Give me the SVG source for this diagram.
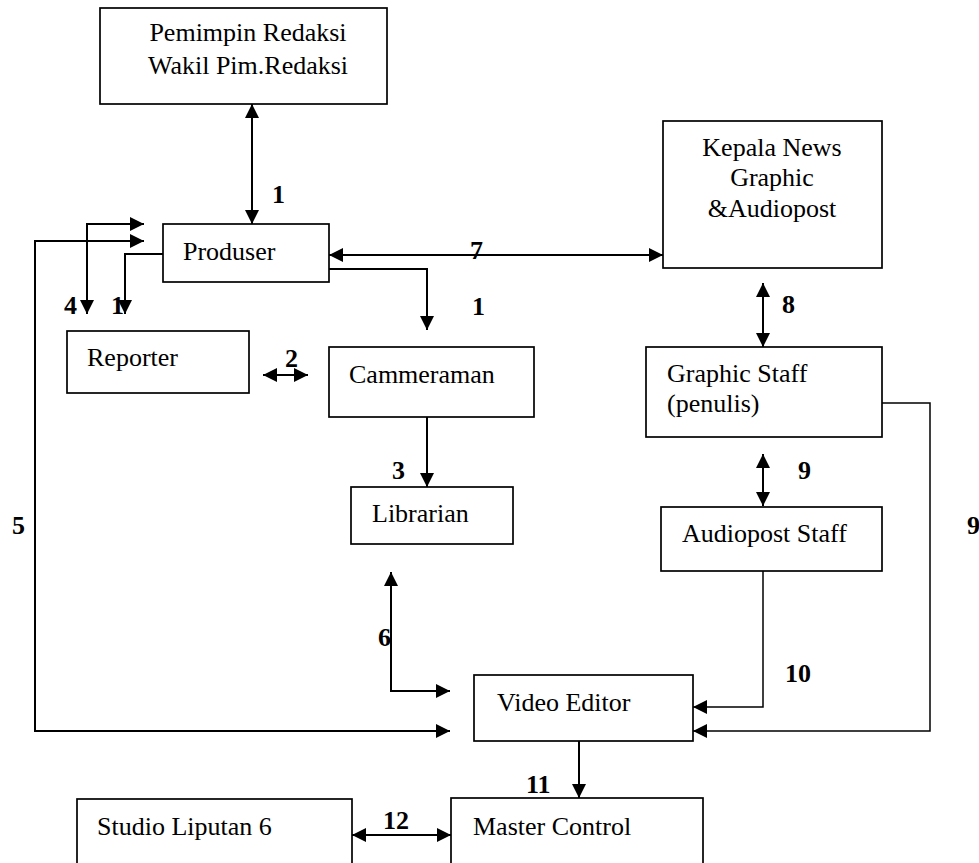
<svg xmlns="http://www.w3.org/2000/svg" width="979" height="863" viewBox="0 0 979 863">
<style>
.box{fill:#fff;stroke:#000;stroke-width:1.7}
.t{font-family:"Liberation Serif","Times New Roman",serif;font-size:26px;fill:#000}
.n{font-family:"Liberation Serif","Times New Roman",serif;font-size:26px;font-weight:bold;fill:#000}
.c{fill:none;stroke:#000;stroke-width:2}
.c1{fill:none;stroke:#000;stroke-width:1.5}
.e{marker-end:url(#ah)}
.s{marker-start:url(#ah)}
</style>
<defs>
<marker id="ah" viewBox="0 0 14 14" refX="14" refY="7" markerWidth="14" markerHeight="14" markerUnits="userSpaceOnUse" orient="auto-start-reverse">
<path d="M0,0 L14,7 L0,14 z" fill="#000"/>
</marker>
</defs>
<rect width="979" height="863" fill="#fff"/>
<g id="connectors">
<path class="c s e" d="M252,104 V224"/>
<path class="c s e" d="M329,255 H663"/>
<path class="c e" d="M329,269 H427 V330"/>
<path class="c e" d="M427,417 V487"/>
<path class="c s e" d="M263,375 H308"/>
<path class="c s e" d="M144,224 H87 V314"/>
<path class="c e" d="M163,254 H125 V314"/>
<path class="c s e" d="M144,241 H35 V731 H450"/>
<path class="c s e" d="M391,572 V691 H450"/>
<path class="c1 e" d="M763,571 V707 H693"/>
<path class="c1 e" d="M882,403 H930 V731 H693"/>
<path class="c s e" d="M763,283 V347"/>
<path class="c s e" d="M763,454 V506"/>
<path class="c e" d="M579,741 V798"/>
<path class="c s e" d="M352,835 H451"/>
</g>
<g id="labels">
<text class="n" x="272" y="203">1</text>
<text class="n" x="470" y="259">7</text>
<text class="n" x="472" y="315">1</text>
<text class="n" x="64" y="314">4</text>
<text class="n" x="111" y="314">1</text>
<text class="n" x="285" y="367">2</text>
<text class="n" x="392" y="479">3</text>
<text class="n" x="12" y="534">5</text>
<text class="n" x="378" y="646">6</text>
<text class="n" x="782" y="313">8</text>
<text class="n" x="798" y="479">9</text>
<text class="n" x="967" y="534">9</text>
<text class="n" x="785" y="682">10</text>
<text class="n" x="526" y="793">11</text>
<text class="n" x="383" y="829">12</text>
</g>
<g id="pemimpin">
<rect class="box" x="100" y="8" width="287" height="96"/>
<text class="t" x="248" y="41" text-anchor="middle">Pemimpin Redaksi</text>
<text class="t" x="248" y="74" text-anchor="middle">Wakil Pim.Redaksi</text>
</g>
<g id="kepala">
<rect class="box" x="663" y="121" width="219" height="147"/>
<text class="t" x="772" y="156" text-anchor="middle">Kepala News</text>
<text class="t" x="772" y="186" text-anchor="middle">Graphic</text>
<text class="t" x="772" y="217" text-anchor="middle">&amp;Audiopost</text>
</g>
<g id="produser">
<rect class="box" x="163" y="224" width="166" height="58"/>
<text class="t" x="183" y="260">Produser</text>
</g>
<g id="reporter">
<rect class="box" x="67" y="331" width="182" height="62"/>
<text class="t" x="87" y="366">Reporter</text>
</g>
<g id="cammeraman">
<rect class="box" x="329" y="347" width="205" height="70"/>
<text class="t" x="349" y="383">Cammeraman</text>
</g>
<g id="librarian">
<rect class="box" x="351" y="487" width="162" height="57"/>
<text class="t" x="372" y="522">Librarian</text>
</g>
<g id="graphic-staff">
<rect class="box" x="646" y="347" width="236" height="90"/>
<text class="t" x="667" y="382">Graphic Staff</text>
<text class="t" x="667" y="412">(penulis)</text>
</g>
<g id="audiopost-staff">
<rect class="box" x="661" y="507" width="221" height="64"/>
<text class="t" x="682" y="542">Audiopost Staff</text>
</g>
<g id="video-editor">
<rect class="box" x="474" y="675" width="219" height="66"/>
<text class="t" x="497" y="711">Video Editor</text>
</g>
<g id="studio">
<rect class="box" x="77" y="799" width="275" height="80"/>
<text class="t" x="97" y="835">Studio Liputan 6</text>
</g>
<g id="master-control">
<rect class="box" x="451" y="798" width="252" height="80"/>
<text class="t" x="473" y="835">Master Control</text>
</g>
</svg>
